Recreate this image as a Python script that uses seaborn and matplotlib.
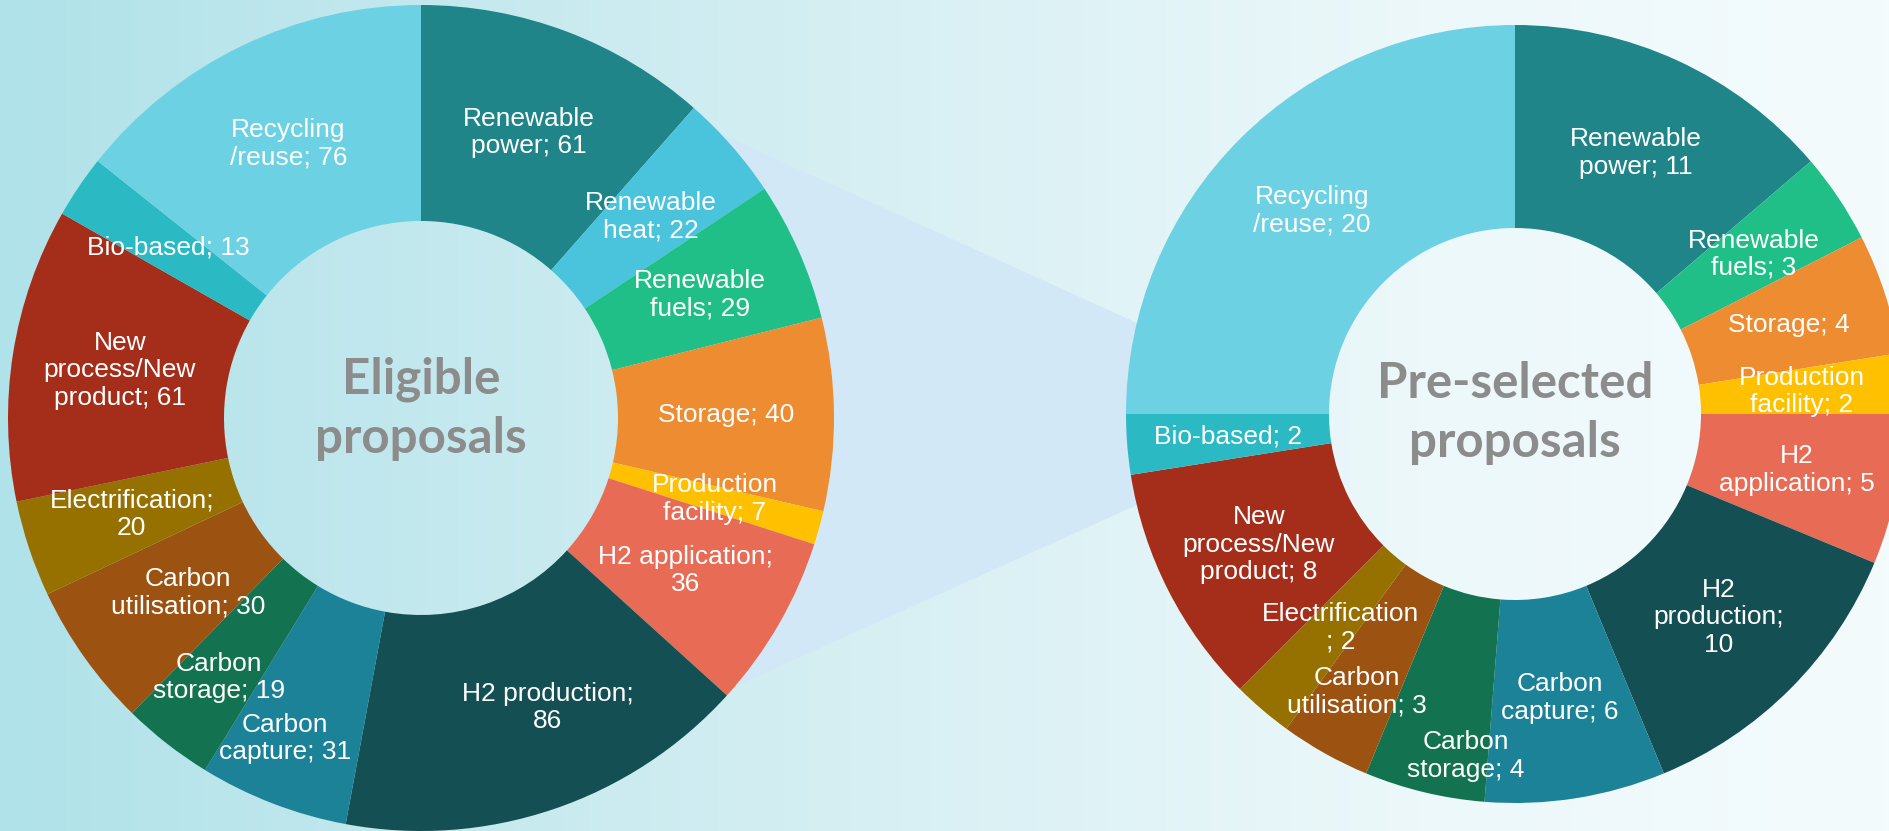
import numpy as np
import matplotlib
matplotlib.use("Agg")
import matplotlib.pyplot as plt
from matplotlib.patches import Polygon
from matplotlib.colors import to_rgb
import seaborn as sns

# ---- data -------------------------------------------------------------
eligible_categories = [
    "Renewable power", "Renewable heat", "Renewable fuels", "Storage",
    "Production facility", "H2 application", "H2 production", "Carbon capture",
    "Carbon storage", "Carbon utilisation", "Electrification",
    "New process/New product", "Bio-based", "Recycling/reuse",
]
eligible_values = [61, 22, 29, 40, 7, 36, 86, 31, 19, 30, 20, 61, 13, 76]
eligible_label_fmt = [
    "Renewable\npower; {}", "Renewable\nheat; {}", "Renewable\nfuels; {}",
    "Storage; {}", "Production\nfacility; {}", "H2 application;\n{}",
    "H2 production;\n{}", "Carbon\ncapture; {}", "Carbon\nstorage; {}",
    "Carbon\nutilisation; {}", "Electrification;\n{}",
    "New\nprocess/New\nproduct; {}", "Bio-based; {}", "Recycling\n/reuse; {}",
]

preselected_categories = [
    "Renewable power", "Renewable fuels", "Storage", "Production facility",
    "H2 application", "H2 production", "Carbon capture", "Carbon storage",
    "Carbon utilisation", "Electrification", "New process/New product",
    "Bio-based", "Recycling/reuse",
]
preselected_values = [11, 3, 4, 2, 5, 10, 6, 4, 3, 2, 8, 2, 20]
preselected_label_fmt = [
    "Renewable\npower; {}", "Renewable\nfuels; {}", "Storage; {}",
    "Production\nfacility; {}", "H2\napplication; {}", "H2\nproduction;\n{}",
    "Carbon\ncapture; {}", "Carbon\nstorage; {}", "Carbon\nutilisation; {}",
    "Electrification\n; {}", "New\nprocess/New\nproduct; {}", "Bio-based; {}",
    "Recycling\n/reuse; {}",
]

category_colors = {
    "Renewable power": "#1F8589",
    "Renewable heat": "#4AC3DC",
    "Renewable fuels": "#20BF88",
    "Storage": "#ED8C31",
    "Production facility": "#FFC000",
    "H2 application": "#E86C55",
    "H2 production": "#134F53",
    "Carbon capture": "#1C8297",
    "Carbon storage": "#137350",
    "Carbon utilisation": "#9C5312",
    "Electrification": "#967100",
    "New process/New product": "#A42E1A",
    "Bio-based": "#2BBAC3",
    "Recycling/reuse": "#6DD1E4",
}

# nudges (radius px, angle deg) for crowded labels so they don't collide
eligible_nudge = {
    "H2 production": (11, -5),
    "Carbon capture": (43, 2),
    "Carbon storage": (24, 0),
    "Carbon utilisation": (-14, -1.5),
}
preselected_nudge = {
    "Carbon storage": (58, -5.3),
    "Carbon utilisation": (32, 0.4),
    "Electrification": (-12, -1.3),
}

# ---- styling ----------------------------------------------------------
sns.set_style("white")
plt.rcParams["font.family"] = ["Liberation Sans", "DejaVu Sans"]

W, H = 1889, 831
fig = plt.figure(figsize=(W / 100, H / 100), dpi=100)
ax = fig.add_axes([0, 0, 1, 1])

# soft background gradient
xs = np.linspace(0, 1, 400)
stops_x = [0.0, 0.45, 0.75, 1.0]
cols = np.stack([np.array(to_rgb(c)) for c in
                 ["#B0E2E9", "#D6EFF3", "#ECF8FA", "#F4FBFD"]])
grad = np.stack([np.interp(xs, stops_x, cols[:, k]) for k in range(3)], axis=-1)
img = np.repeat(grad[None, :, :], 200, axis=0)
ax.imshow(img, extent=(0, W, 0, H), aspect="auto", zorder=0, origin="upper")

# connector band between the two rings
band = Polygon([(723, H - 135), (1137, H - 323), (1137, H - 505), (727, H - 690)],
               closed=True, facecolor="#D3E8F7", edgecolor="none", zorder=1)
ax.add_patch(band)


def draw_ring(values, categories, fmts, nudges, center_px, r_out, r_in,
              title, title_dy):
    cx, cy = center_px[0], H - center_px[1]
    palette = sns.color_palette([category_colors[c] for c in categories])
    ax.pie(values, colors=palette, startangle=90, counterclock=False,
           radius=r_out, center=(cx, cy),
           wedgeprops=dict(width=r_out - r_in, edgecolor="none", linewidth=0,
                           zorder=2))
    vals = np.asarray(values, dtype=float)
    cum = np.cumsum(vals)
    mids = (cum - vals / 2) / vals.sum() * 360.0
    r_mid = (r_out + r_in) / 2
    for m, v, f, cat in zip(mids, values, fmts, categories):
        dr, da = nudges.get(cat, (0, 0))
        ang = np.deg2rad(m + da)
        tx = cx + (r_mid + dr) * np.sin(ang)
        ty = cy + (r_mid + dr) * np.cos(ang)
        ax.text(tx, ty, f.format(v), ha="center", va="center",
                multialignment="center", color="white", fontsize=19,
                linespacing=1.18, zorder=4)
    ax.text(cx, cy + title_dy, title, ha="center", va="center",
            color="#8C8C8C", fontsize=35.5, fontweight="bold",
            family=["Lato", "DejaVu Sans"], linespacing=1.37, zorder=4)


draw_ring(eligible_values, eligible_categories, eligible_label_fmt,
          eligible_nudge, (421, 418), 413, 197, "Eligible\nproposals", 9)
draw_ring(preselected_values, preselected_categories, preselected_label_fmt,
          preselected_nudge, (1515, 414), 389, 186, "Pre-selected\nproposals", 1)

ax.set_xlim(0, W)
ax.set_ylim(0, H)
ax.set_aspect("auto")
ax.axis("off")

fig.savefig("out.png", dpi=100)
